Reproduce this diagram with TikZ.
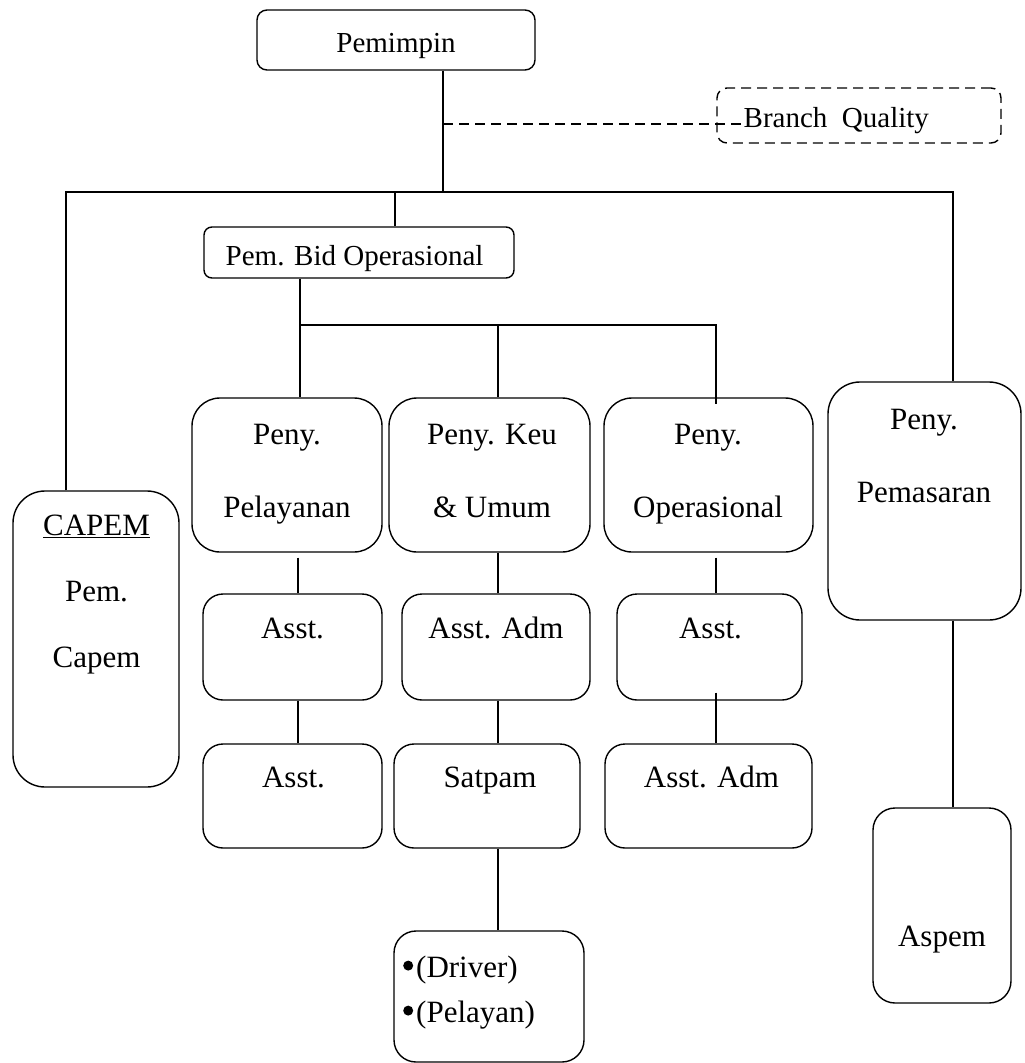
\documentclass[tikz,border=0pt]{standalone}
\usepackage{fontspec}
\setmainfont{Liberation Serif}
\usetikzlibrary{calc}
\newcommand{\bigbul}{\raisebox{0.45ex}{\tikz\fill (0,0) circle (5pt);}\hspace{3pt}}
\begin{document}
\begin{tikzpicture}[x=1pt,y=-1pt,line width=1.4pt,
  bx/.style={draw,inner sep=0pt},
  tx/.style={font=\fontsize{31}{31}\selectfont,inner sep=0pt,anchor=base},
  ts/.style={font=\fontsize{29}{29}\selectfont,inner sep=0pt,anchor=base},
  dsh/.style={dash pattern=on 10pt off 6pt}]
\useasboundingbox (0,0) rectangle (1025,1063);
% boxes
\node[bx,rounded corners=10pt,minimum width=278pt,minimum height=60pt] (pem) at (396,40) {};
\node[bx,dsh,rounded corners=10pt,minimum width=284pt,minimum height=55pt] (bq) at (859,115.5) {};
\node[bx,rounded corners=8pt,minimum width=310pt,minimum height=51pt] (bid) at (359,252.5) {};
\node[bx,rounded corners=28pt,minimum width=190pt,minimum height=154pt] (pel) at (287,475) {};
\node[bx,rounded corners=28pt,minimum width=201pt,minimum height=154pt] (keu) at (489.5,475) {};
\node[bx,rounded corners=28pt,minimum width=209pt,minimum height=154pt] (ops) at (708.5,475) {};
\node[bx,rounded corners=32pt,minimum width=193pt,minimum height=238pt] (pemas) at (924.5,501) {};
\node[bx,rounded corners=32pt,minimum width=166pt,minimum height=296pt] (capem) at (96,639) {};
\node[bx,rounded corners=20pt,minimum width=179pt,minimum height=106pt] (a1) at (292.5,647) {};
\node[bx,rounded corners=20pt,minimum width=188pt,minimum height=106pt] (a2) at (496,647) {};
\node[bx,rounded corners=20pt,minimum width=185pt,minimum height=106pt] (a3) at (709.5,647) {};
\node[bx,rounded corners=20pt,minimum width=179pt,minimum height=104pt] (b1) at (292.5,796) {};
\node[bx,rounded corners=20pt,minimum width=186pt,minimum height=104pt] (b2) at (487,796) {};
\node[bx,rounded corners=20pt,minimum width=207pt,minimum height=104pt] (b3) at (708.5,796) {};
\node[bx,rounded corners=22pt,minimum width=138pt,minimum height=195pt] (aspem) at (942,905.5) {};
\node[bx,rounded corners=22pt,minimum width=190pt,minimum height=131pt] (drv) at (489,996.5) {};
% texts
\node[ts] (tpem) at (396,52) {Pemimpin};
\node[ts,anchor=base west] (bqt) at (743,127) {Branch\ \ Quality};
\node[ts,anchor=base west] (tbid) at (225,265) {Pem. Bid Operasional};
\node[tx] (tpel1) at (287,444) {Peny.};
\node[tx] (tpel2) at (287,517) {Pelayanan};
\node[tx] (tkeu1) at (492,444) {Peny. Keu};
\node[tx] (tkeu2) at (492,517) {\& Umum};
\node[tx] (tops1) at (708,444) {Peny.};
\node[tx] (tops2) at (708,517) {Operasional};
\node[tx] (tpms1) at (924,429) {Peny.};
\node[tx] (tpms2) at (924,502) {Pemasaran};
\node[tx] (tcap1) at (96.5,535) {\underline{CAPEM}};
\node[tx] (tcap2) at (96.5,601) {Pem.};
\node[tx] (tcap3) at (96.5,667) {Capem};
\node[tx] (ta1) at (292.5,638) {Asst.};
\node[tx] (ta2) at (496,638) {Asst. Adm};
\node[tx] (ta3) at (710.5,638) {Asst.};
\node[tx] (tb1) at (293.5,787) {Asst.};
\node[tx] (tb2) at (490,787) {Satpam};
\node[tx] (tb3) at (711.5,787) {Asst. Adm};
\node[tx] (tasp) at (942,946) {Aspem};
\node[tx,anchor=base west] (td1) at (403,977) {\bigbul(Driver)};
\node[tx,anchor=base west] (td2) at (403,1022) {\bigbul(Pelayan)};
% connectors
\coordinate (jL) at (66,192);
\coordinate (jT) at (443,192);
\coordinate (jR) at (953,192);
\coordinate (jB) at (395,192);
\coordinate (jd) at (443,124);
\coordinate (jO1) at (300,325);
\coordinate (jO2) at (498,325);
\coordinate (jO3) at (716,325);
\coordinate (c1) at (298,575);
\coordinate (c2) at (498,575);
\coordinate (c3) at (716,575);
\draw (pem.south -| jT) -- (jT);
\draw[dsh] (jd) -- (jd -| bqt.west);
\draw (jL |- capem.north) -- (jL) -- (jR) -- (jR |- pemas.north);
\draw (jB) -- (jB |- bid.north);
\draw (jO1 |- bid.south) -- (jO1) -- (jO3) -- ($(jO3 |- ops.north)+(0,7)$);
\draw (jO1) -- (jO1 |- pel.north);
\draw (jO2) -- (jO2 |- keu.north);
\draw ($(c1 |- pel.south)+(0,5)$) -- (c1 |- a1.north);
\draw (c2 |- keu.south) -- (c2 |- a2.north);
\draw ($(c3 |- ops.south)+(0,5)$) -- (c3 |- a3.north);
\draw (c1 |- a1.south) -- (c1 |- b1.north);
\draw (c2 |- a2.south) -- (c2 |- b2.north);
\draw ($(c3 |- a3.south)+(0,-8)$) -- (c3 |- b3.north);
\draw (c2 |- b2.south) -- (c2 |- drv.north);
\draw (jR |- pemas.south) -- (jR |- aspem.north);
\end{tikzpicture}
\end{document}
